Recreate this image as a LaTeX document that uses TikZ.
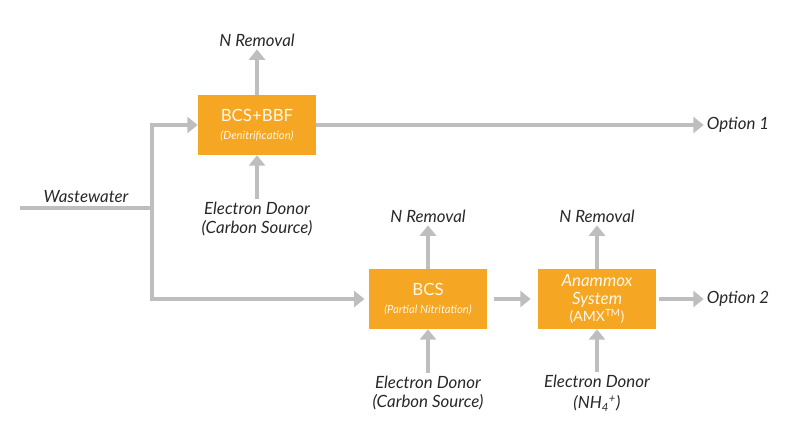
\documentclass[tikz,border=0pt]{standalone}
\usepackage{fontspec}
\setmainfont{Lato}
\usetikzlibrary{
    arrows.meta,
    positioning
}

\definecolor{boxorange}{RGB}{245,166,35}
\definecolor{flowgray}{RGB}{190,190,190}
\definecolor{labelgray}{RGB}{40,40,40}

\tikzset{
  unit/.style={
    fill=boxorange,
    text=white!92!boxorange,
    font=\large,
    minimum width=2.95cm,
    minimum height=1.5cm,
    align=center,
    inner sep=2pt
  },
  lbl/.style={
    text=labelgray,
    font=\itshape\large,
    align=center,
    inner sep=2pt
  },
  flow/.style={
    draw=flowgray,
    line width=2.8pt,
    line join=miter,
    -{Triangle[length=2.6mm,width=4mm]}
  },
  pipe/.style={
    draw=flowgray,
    line width=2.8pt,
    line join=miter
  }
}

\begin{document}
\begin{tikzpicture}[x=0.025cm, y=-0.025cm]

  \useasboundingbox (0,0) rectangle (800,434);

  % units {{{
  \node[unit] (bcsbbf) at (257,125)
  {BCS+BBF\\[-1pt]{\footnotesize\itshape (Denitrification)}};
  \node[unit] (bcs) at (428,299)
  {BCS\\[-1pt]{\footnotesize\itshape (Partial Nitritation)}};
  \node[unit] (amx) at (597,299)
  {{\itshape Anammox}\\[-1pt]{\itshape System}\\[-2pt]{\normalsize (AMX\textsuperscript{TM})}};
  % }}}

  % labels {{{
  \node[lbl] (nrem1) at (257,40) {N Removal};
  \node[lbl] (nrem2) at (428,216) {N Removal};
  \node[lbl] (nrem3) at (597,216) {N Removal};
  \node[lbl] (donor1) at (257,219) {Electron Donor\\(Carbon Source)};
  \node[lbl] (donor2) at (428,393) {Electron Donor\\(Carbon Source)};
  \node[lbl] (donor3) at (597,393) {Electron Donor\\[1pt](NH\textsubscript{4}\textsuperscript{+})};
  \node[lbl] (opt1) at (738,125) {Option 1};
  \node[lbl] (opt2) at (738,299) {Option 2};
  \node[lbl] (wwlbl) at (86,197) {Wastewater};
  % }}}

  \coordinate (wwin) at (20,208);
  \coordinate (split) at (152,208);

  % connectors {{{
  \draw[pipe] (wwin) -- (split);
  \draw[flow] (split) |- (bcsbbf);
  \draw[flow] (split) |- ([xshift=-3pt]bcs.west);
  \draw[flow] (bcsbbf) -- (nrem1);
  \draw[flow] (donor1) -- (bcsbbf);
  \draw[flow] (bcsbbf) -- (opt1);
  \draw[flow] (bcs) -- (nrem2);
  \draw[flow] (donor2) -- (bcs);
  \draw[flow] ([xshift=5pt]bcs.east) -- ([xshift=-5pt]amx.west);
  \draw[flow] (amx) -- (nrem3);
  \draw[flow] (donor3) -- (amx);
  \draw[flow] ([xshift=2pt]amx.east) -- (opt2);
  % }}}

\end{tikzpicture}
\end{document}
